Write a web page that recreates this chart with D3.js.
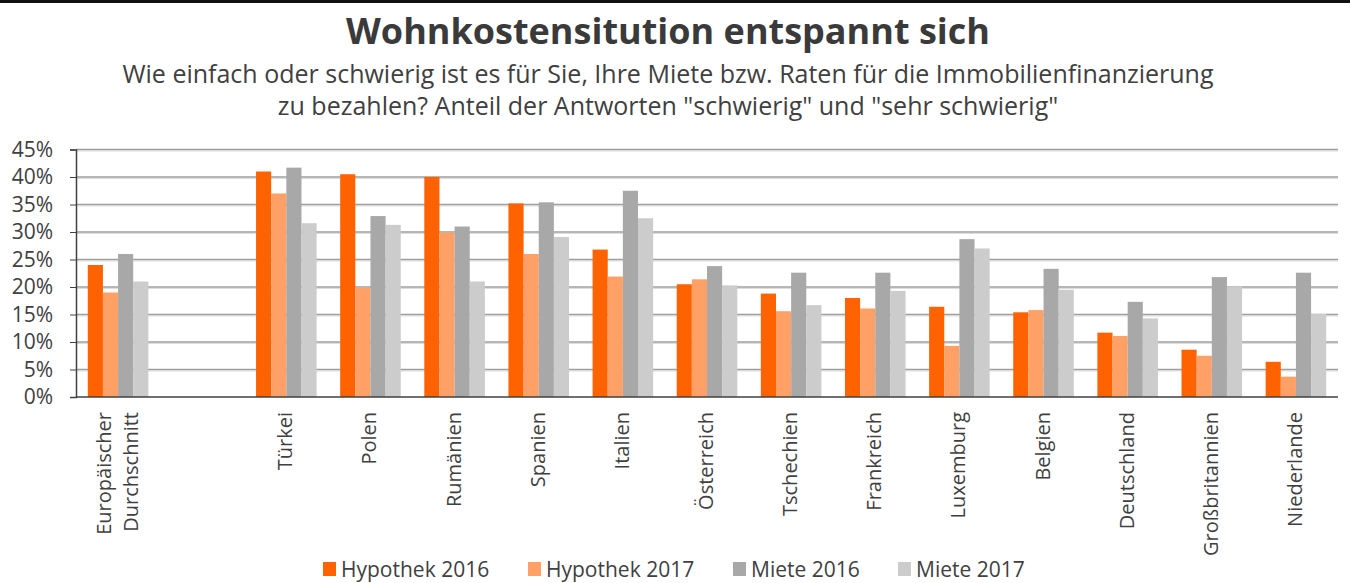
<!DOCTYPE html>
<html>
<head>
<meta charset="utf-8">
<script src="https://cdn.jsdelivr.net/npm/d3@7"></script>
<style>
body { margin: 0; background: #fff; }
svg { font-family: "Open Sans", sans-serif; }
</style>
</head>
<body>
<svg id="chart" width="1350" height="583"></svg>
<script>
// categories (the blank one is the gap after the average)
var categories = ["Europäischer Durchschnitt", "_gap", "Türkei", "Polen", "Rumänien", "Spanien", "Italien",
	"Österreich", "Tschechien", "Frankreich", "Luxemburg", "Belgien", "Deutschland", "Großbritannien", "Niederlande"];
var seriesNames = ["Hypothek 2016", "Hypothek 2017", "Miete 2016", "Miete 2017"];
var hyp2016 = [24, null, 41.0, 40.5, 40.0, 35.2, 26.8, 20.5, 18.8, 18.0, 16.4, 15.4, 11.7, 8.6, 6.4];
var hyp2017 = [19, null, 37.0, 19.9, 29.9, 26.0, 21.9, 21.4, 15.6, 16.1, 9.3, 15.8, 11.1, 7.5, 3.7];
var miete2016 = [26, null, 41.7, 32.9, 31.0, 35.4, 37.5, 23.8, 22.6, 22.6, 28.7, 23.3, 17.3, 21.8, 22.6];
var miete2017 = [21, null, 31.6, 31.3, 21.0, 29.1, 32.5, 20.3, 16.7, 19.3, 27.0, 19.5, 14.3, 20.1, 15.1];
var yTicks = [0, 5, 10, 15, 20, 25, 30, 35, 40, 45];
var colors = ["#ff6200", "#ffa066", "#a8a8a8", "#cccccc"];

var series = [hyp2016, hyp2017, miete2016, miete2017];
var svg = d3.select('#chart');

var plotLeft = 76, plotRight = 1338, plotTop = 149.5, plotBottom = 397;

var x0 = d3.scaleBand().domain(categories).range([plotLeft, plotRight]).paddingInner(0.28).paddingOuter(0.14);
var x1 = d3.scaleBand().domain(seriesNames).range([0, x0.bandwidth()]);
var y = d3.scaleLinear().domain([0, 45]).range([plotBottom, plotTop]);

// frame line at top
svg.append('rect').attr('x', 0).attr('y', 0).attr('width', 1350).attr('height', 3).attr('fill', '#111');

// title
svg.append('text')
	.attr('x', 668).attr('y', 44)
	.attr('text-anchor', 'middle')
	.attr('font-size', 36).attr('font-weight', 'bold')
	.attr('fill', '#3a3a3a')
	.text('Wohnkostensitution entspannt sich');

svg.append('text')
	.attr('x', 668).attr('y', 83)
	.attr('text-anchor', 'middle')
	.attr('font-size', 25)
	.attr('fill', '#404040')
	.text('Wie einfach oder schwierig ist es für Sie, Ihre Miete bzw. Raten für die Immobilienfinanzierung');
svg.append('text')
	.attr('x', 668).attr('y', 115)
	.attr('text-anchor', 'middle')
	.attr('font-size', 25)
	.attr('fill', '#404040')
	.text('zu bezahlen? Anteil der Antworten "schwierig" und "sehr schwierig"');

// gridlines
var grid = svg.append('g');
grid.selectAll('line.shadow')
	.data(yTicks.slice(1))
	.enter()
	.append('line')
	.attr('x1', plotLeft).attr('x2', plotRight)
	.attr('y1', function(d){ return y(d) + 1.5; })
	.attr('y2', function(d){ return y(d) + 1.5; })
	.attr('stroke', '#dddddd').attr('stroke-width', 1);
grid.selectAll('line.main')
	.data(yTicks.slice(1))
	.enter()
	.append('line')
	.attr('x1', plotLeft).attr('x2', plotRight)
	.attr('y1', function(d){ return y(d); })
	.attr('y2', function(d){ return y(d); })
	.attr('stroke', '#9e9e9e').attr('stroke-width', 1.6);

// bars
svg.append('g')
	.selectAll('g')
	.data(series)
	.enter()
	.append('g')
	.attr('fill', function(d, i){ return colors[i]; })
	.selectAll('rect')
	.data(function(d, i){
		return d.map(function(v, j){ return {cat: categories[j], s: seriesNames[i], v: v}; })
			.filter(function(e){ return e.v != null; });
	})
	.enter()
	.append('rect')
	.attr('x', function(d){ return x0(d.cat) + x1(d.s); })
	.attr('width', x1.bandwidth())
	.attr('y', function(d){ return y(d.v); })
	.attr('height', function(d){ return plotBottom - y(d.v); });

// y axis
var yAxis = d3.axisLeft(y).tickValues(yTicks).tickSize(6).tickFormat(function(d){ return d + '%'; });
var ya = svg.append('g').attr('transform', 'translate(' + plotLeft + ',0)').call(yAxis);
ya.select('.domain').attr('stroke', '#404040').attr('stroke-width', 1.5);
ya.selectAll('.tick line').attr('stroke', '#404040');
ya.selectAll('.tick text')
	.attr('x', -23)
	.attr('font-size', 21)
	.attr('font-family', '"Open Sans", sans-serif')
	.attr('fill', '#404040');

// x axis baseline
svg.append('line')
	.attr('x1', plotLeft).attr('x2', plotRight)
	.attr('y1', plotBottom).attr('y2', plotBottom)
	.attr('stroke', '#404040').attr('stroke-width', 1.5);

// x labels, rotated
var xl = svg.append('g');
categories.forEach(function(c){
	if (c === '_gap') return;
	var cx = x0(c) + x0.bandwidth() / 2;
	var lines = c === 'Europäischer Durchschnitt' ? ['Europäischer', 'Durchschnitt'] : [c];
	lines.forEach(function(t, k){
		var off = (k - (lines.length - 1) / 2) * 27;
		xl.append('text')
			.attr('transform', 'translate(' + (cx + off + 6) + ',412) rotate(-90)')
			.attr('text-anchor', 'end')
			.attr('font-size', 20)
			.attr('fill', '#404040')
			.text(t);
	});
});

// legend
var legendX = [323, 528, 733, 898];
var lg = svg.append('g');
seriesNames.forEach(function(n, i){
	lg.append('rect')
		.attr('x', legendX[i]).attr('y', 562)
		.attr('width', 13).attr('height', 14)
		.attr('fill', colors[i]);
	lg.append('text')
		.attr('x', legendX[i] + 18).attr('y', 577)
		.attr('font-size', 21)
		.attr('fill', '#404040')
		.text(n);
});
</script>
</body>
</html>
